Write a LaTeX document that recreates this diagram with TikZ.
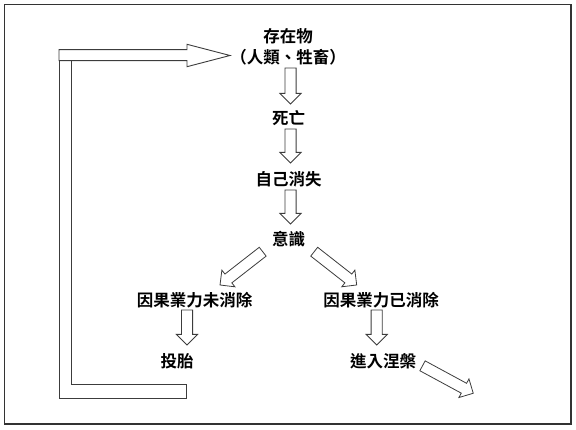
\documentclass[tikz,border=0pt]{standalone}
\usepackage{fontspec}
\setmainfont{Noto Sans CJK TC}[BoldFont={Noto Sans CJK TC Bold}]
\usepackage{tikz}
\usetikzlibrary{shapes.arrows,calc}
\definecolor{linegray}{RGB}{60,60,60}

% hollow block arrow from tail (#2) to tip (#3)
\newcommand\hollowarrow[3][]{%
  \path let \p1=($(#3)-(#2)$), \n1={atan2(\y1,\x1)}, \n2={veclen(\x1,\y1)} in
    node[blockarrow, rotate=\n1, minimum height=\n2, anchor=tail, #1] at (#2) {};
}

\begin{document}
\begin{tikzpicture}[
			x=1pt, y=-1pt,
			stage/.style={inner sep=0pt, align=center, font=\fontsize{16.5}{21}\selectfont\bfseries},
			blockarrow/.style={single arrow, draw=linegray, fill=white, line width=0.8pt,
				inner xsep=0pt, inner ysep=5.2pt, outer sep=0pt,
				single arrow head extend=5pt, single arrow tip angle=90},
			loop/.style={draw=linegray, fill=white, line width=0.9pt, line join=miter}
			]
			\useasboundingbox (0,0) rectangle (576,430);
			\draw[line width=1.2pt, black!80] (4.5,4.5) rectangle (571,424);
			
			\node[stage] (exist) at (288,47) {存在物\\（人類、牲畜）};
			\node[stage] (death) at (288.5,118) {死亡};
			\node[stage] (self) at (288.5,179) {自己消失};
			\node[stage] (soul) at (288.5,239) {意識};
			\node[stage] (karma) at (194.5,300) {因果業力未消除};
			\node[stage] (free) at (381,300) {因果業力已消除};
			\node[stage] (rebirth) at (177,361) {投胎};
			\node[stage] (nirvana) at (383,361) {進入涅槃};
			\coordinate (beyond) at (473.3,393.3);
			
			\hollowarrow{$(exist)+(2.5,21)$}{$(death)+(2,-14)$}
			\hollowarrow{$(death)+(2,11)$}{$(self)+(2,-16)$}
			\hollowarrow{$(self)+(2,11)$}{$(soul)+(2,-15)$}
			\hollowarrow{$(soul)+(-25.8,12.7)$}{$(karma)+(25.5,-15)$}
			\hollowarrow{$(soul)+(25.7,12.7)$}{$(free)+(-24.3,-15)$}
			\hollowarrow{$(karma)+(-7.5,10)$}{$(rebirth)+(10,-16)$}
			\hollowarrow{$(free)+(-4.3,10)$}{$(nirvana)+(-6.3,-16)$}
			\hollowarrow{$(nirvana)+(39.5,4.8)$}{beyond}
			
			% loop back from rebirth to existence
			\draw[loop] (59,60.7) -- (59,398) -- (186,398) -- (186,384.7) -- (71,384.7) -- (71,60.7);
			\draw[loop] (59,49.7) -- (187,49.7) -- (187,44.3) -- (230,55.5) -- (187,66.7) -- (187,60.7) -- (59,60.7) -- cycle;
		\end{tikzpicture}
\end{document}
